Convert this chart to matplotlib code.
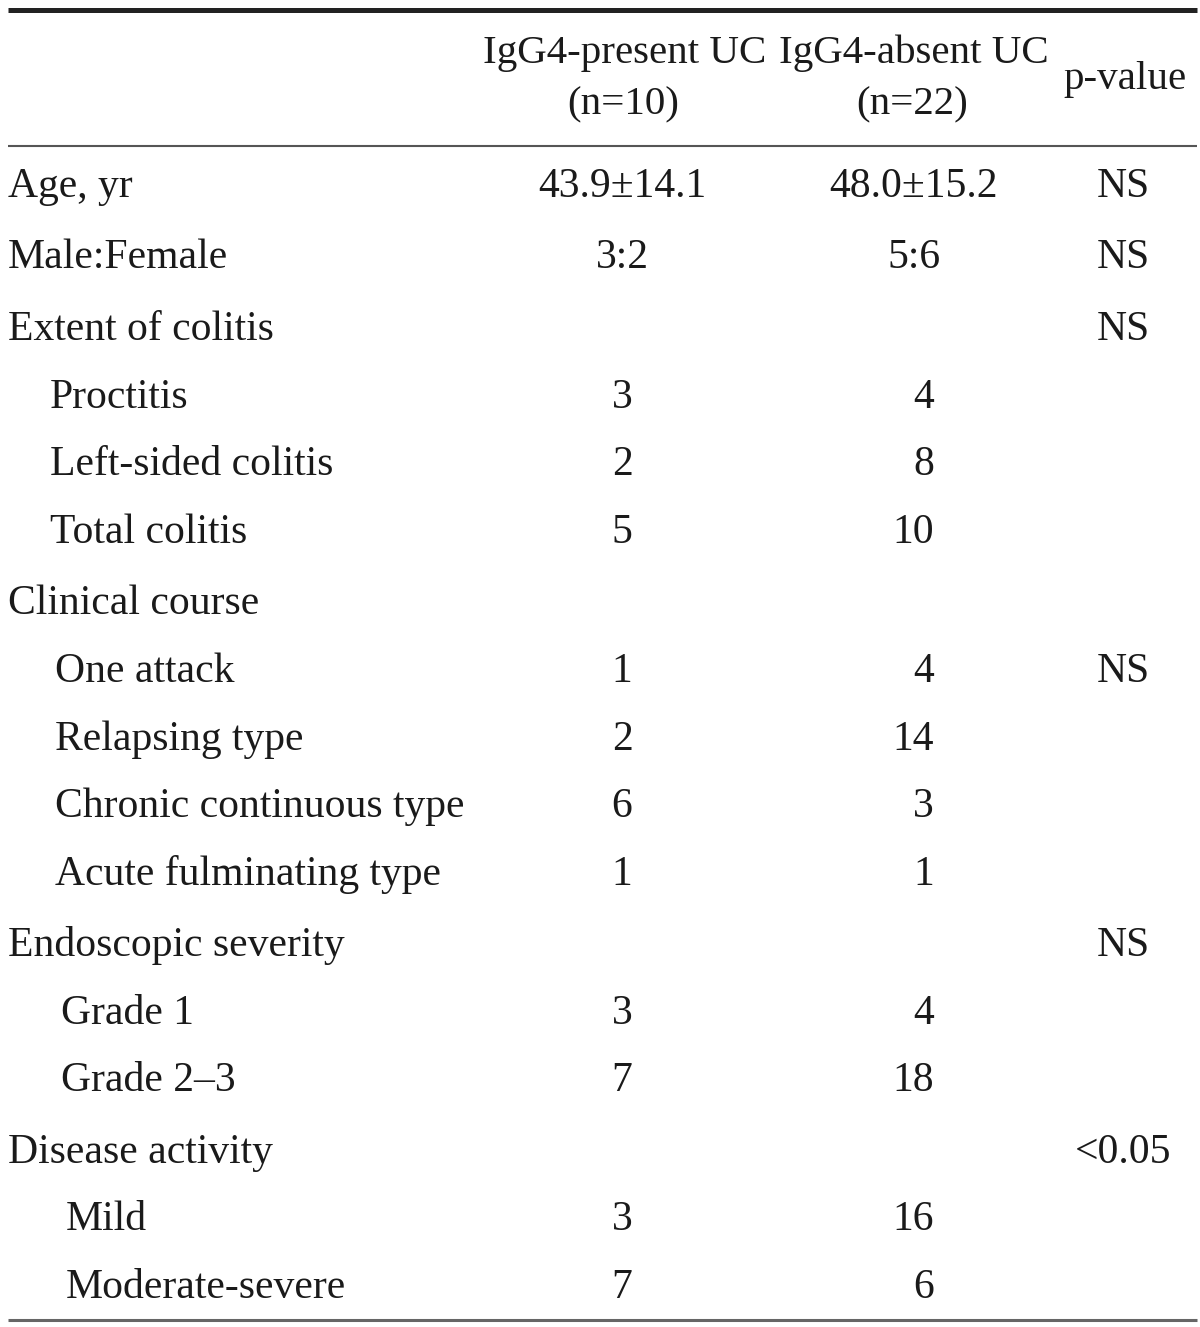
import matplotlib.pyplot as plt

plt.rcParams["font.family"] = ["Liberation Serif", "DejaVu Serif"]

# ---- table content ----
HEAD_COLS = ["IgG4-present UC\n(n=10)", "IgG4-absent UC\n(n=22)", "p-value"]

ROW_LABELS = [
    "Age, yr", "Male:Female", "Extent of colitis",
    "Proctitis", "Left-sided colitis", "Total colitis",
    "Clinical course",
    "One attack", "Relapsing type", "Chronic continuous type", "Acute fulminating type",
    "Endoscopic severity",
    "Grade 1", "Grade 2\u20133",
    "Disease activity",
    "Mild", "Moderate-severe",
]
# 0 = group row, 1..4 = sub row of group n
ROW_LEVEL = [0, 0, 0, 1, 1, 1, 0, 2, 2, 2, 2, 0, 3, 3, 0, 4, 4]

PRESENT = ["43.9\u00b114.1", "3:2", "", "3", "2", "5", "", "1", "2", "6", "1",
           "", "3", "7", "", "3", "7"]
ABSENT = ["48.0\u00b115.2", "5:6", "", "4", "8", "10", "", "4", "14", "3", "1",
          "", "4", "18", "", "16", "6"]
PVAL = ["NS", "NS", "NS", "", "", "", "", "NS", "", "", "",
        "NS", "", "", "<0.05", "", ""]

# ---- layout (pixels) ----
W, H = 1200, 1327
INDENT = {0: 8, 1: 50, 2: 55, 3: 61, 4: 66}
X_C1, X_C2, X_C2R, X_P = 622, 914, 934, 1123
FS = 30.0
FS_HEAD = 29.5
TXT = "#1a1a1a"

fig = plt.figure(figsize=(W / 100, H / 100), dpi=100)
ax = fig.add_axes([0, 0, 1, 1])
ax.set_xlim(0, W)
ax.set_ylim(H, 0)
ax.axis("off")

# rules
ax.plot([8, 1197], [10, 10], color="#222222", lw=3.6, solid_capstyle="butt")
ax.plot([8, 1197], [146, 146], color="#555555", lw=1.5, solid_capstyle="butt")
ax.plot([8, 1197], [1320, 1320], color="#666666", lw=2.2, solid_capstyle="butt")

# header
for x, lab in zip([X_C1 + 3, X_C2], HEAD_COLS[:2]):
    top, bot = lab.split("\n")
    ax.text(x, 63, top, ha="center", va="baseline", fontsize=FS_HEAD, color=TXT)
    ax.text(x - 2, 114, bot, ha="center", va="baseline", fontsize=FS_HEAD, color=TXT)
ax.text(X_P + 2, 89, HEAD_COLS[2], ha="center", va="baseline", fontsize=FS_HEAD, color=TXT)

# body
y = 197
for i, lab in enumerate(ROW_LABELS):
    if i > 0:
        y += 71.5 if ROW_LEVEL[i] == 0 else 67.6
    ax.text(INDENT[ROW_LEVEL[i]], y, lab, ha="left", va="baseline", fontsize=FS, color=TXT)
    if PRESENT[i]:
        ax.text(X_C1, y, PRESENT[i], ha="center", va="baseline", fontsize=FS, color=TXT)
    if ABSENT[i]:
        if ABSENT[i].isdigit():
            ax.text(X_C2R, y, ABSENT[i], ha="right", va="baseline", fontsize=FS, color=TXT)
        else:
            ax.text(X_C2, y, ABSENT[i], ha="center", va="baseline", fontsize=FS, color=TXT)
    if PVAL[i]:
        ax.text(X_P, y, PVAL[i], ha="center", va="baseline", fontsize=FS, color=TXT)

fig.savefig("out.png", dpi=100)
